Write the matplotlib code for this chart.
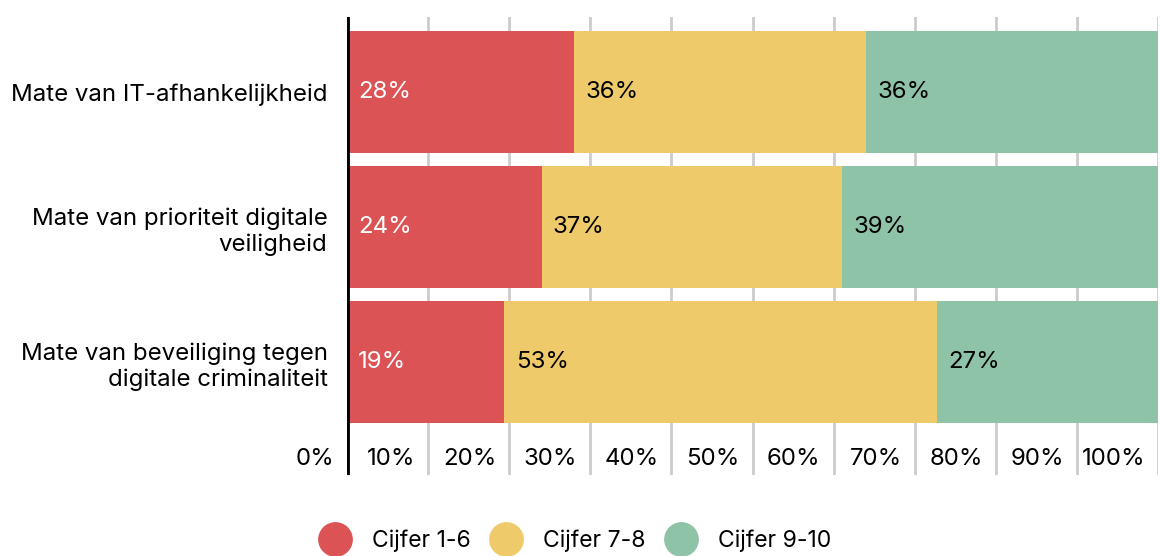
import matplotlib
matplotlib.use("Agg")
from matplotlib import pyplot as plt
from matplotlib.lines import Line2D

# data
categories = ["Mate van IT-afhankelijkheid",
              "Mate van prioriteit digitale\nveiligheid",
              "Mate van beveiliging tegen\ndigitale criminaliteit"]
series_names = ["Cijfer 1-6", "Cijfer 7-8", "Cijfer 9-10"]
cijfer_1_6 = [28, 24, 19.4]
cijfer_7_8 = [36, 37, 53.3]
cijfer_9_10 = [36, 39, 27.3]
ticks = [0, 10, 20, 30, 40, 50, 60, 70, 80, 90, 100]

colors = ["#DC5356", "#EFCA6A", "#8FC3A7"]
text_colors = ["white", "black", "black"]

plt.rcParams['font.family'] = ['Inter', 'DejaVu Sans']
FS = 17.3

W, H = 1162, 556
fig = plt.figure(figsize=(W / 100, H / 100), dpi=100)
ax = fig.add_axes([347 / W, 1 - 475 / H, (1158 - 347) / W, (475 - 17) / H])

ys = list(range(len(categories)))
left = [0] * len(categories)
for vals, col, tcol in zip([cijfer_1_6, cijfer_7_8, cijfer_9_10], colors, text_colors):
    ax.barh(ys, vals, left=left, height=0.9, color=col, zorder=2)
    for y, l, v in zip(ys, left, vals):
        ax.text(l + 1.4, y, "%d%%" % round(v), ha="left", va="center",
                color=tcol, fontsize=FS, zorder=3)
    left = [a + b for a, b in zip(left, vals)]

ax.set_xlim(0, 100)
ax.set_ylim(2.837, -0.556)

# gridlines and axis line
for t in ticks[1:]:
    ax.axvline(t, color="#cccccc", lw=2, zorder=1)
ax.axvline(0, color="black", lw=3.5, zorder=4)

# x tick labels inside axes, right-aligned left of each line
for t in ticks:
    ax.text(t - 1.6, 2.72, "%d%%" % t, ha="right", va="center", fontsize=FS)

for s in ax.spines.values():
    s.set_visible(False)
ax.set_xticks([])
ax.set_yticks(ys)
ax.set_yticklabels(categories, fontsize=FS, linespacing=1.2)
ax.tick_params(axis="y", length=0, pad=14)

handles = [Line2D([], [], marker="o", linestyle="", markersize=24,
                  markerfacecolor=c, markeredgecolor=c) for c in colors]
fig.legend(handles, series_names, loc="center", bbox_to_anchor=(0.492, 1 - 541 / H),
           ncol=3, frameon=False, fontsize=16.5, handletextpad=0.6,
           columnspacing=0.55, borderaxespad=0)

fig.savefig("out.png", dpi=100)
